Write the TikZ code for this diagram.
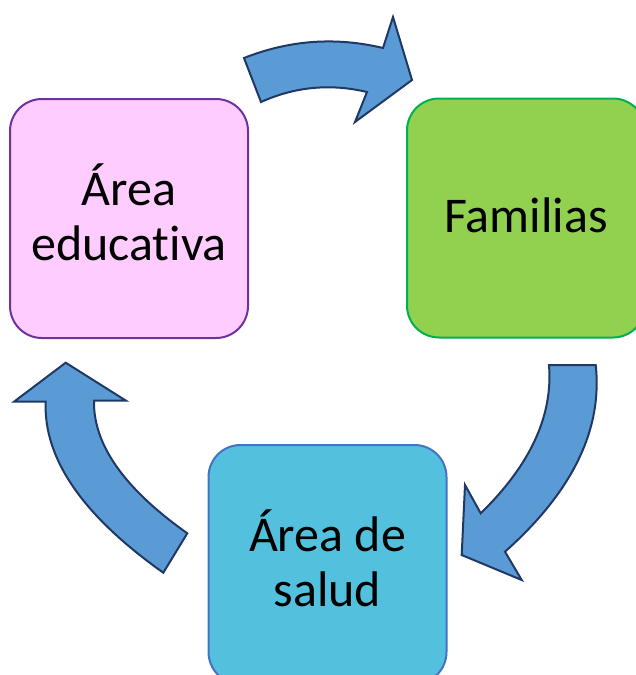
\documentclass[tikz,border=0pt]{standalone}
\usepackage{fontspec}
\setmainfont{Carlito}[Ligatures=NoCommon]
\definecolor{arrowfill}{HTML}{5B9BD5}
\definecolor{arrowline}{HTML}{1F3864}
\definecolor{pinkfill}{HTML}{FFCCFF}
\definecolor{pinkline}{HTML}{7030A0}
\definecolor{greenfill}{HTML}{92D050}
\definecolor{greenline}{HTML}{00B050}
\definecolor{aquafill}{HTML}{53C1DD}
\definecolor{aqualine}{HTML}{4472C4}
\tikzset{
  box/.style={rounded corners=32pt, line width=2pt, minimum width=238pt, minimum height=239pt,
    inner sep=0pt},
  boxtext/.style={align=center, inner sep=0pt, font=\fontsize{50}{55}\selectfont},
  cyclearrow/.style={fill=arrowfill, draw=arrowline, line width=2pt, line join=miter}
}
\begin{document}
\begin{tikzpicture}[x=1pt,y=-1pt]
\useasboundingbox (0,0) rectangle (636,675);
\clip (0,0) rectangle (636,675);
\fill[white] (0,0) rectangle (636,675);
% boxes
\node[box, fill=pinkfill, draw=pinkline] (edu) at (129,218.5) {};
\node[box, fill=greenfill, draw=greenline] (fam) at (526,218) {};
\node[box, fill=aquafill, draw=aqualine] (sal) at (327.5,564.5) {};
\node[boxtext] (edutext) at ([yshift=6pt]edu.center) {Área\\educativa};
\node[boxtext] (famtext) at ([yshift=3pt]fam.center) {Familias};
\node[boxtext] (saltext) at ([yshift=6pt]sal.center) {Área de\\salud};
% top arrow (educativa -> familias)
\draw[cyclearrow] (244,58) .. controls (289.7,40) and (335.7,36.7) .. (383,48)
  -- (393,17) -- (412,80) -- (355,122) -- (367,92)
  .. controls (330.3,83.3) and (295,86.7) .. (261,102) -- cycle;
% right arrow (familias -> salud)
\draw[cyclearrow] (549,365) -- (595.7,365)
  .. controls (602.7,429.4) and (572.5,491.6) .. (505,551.7)
  -- (521.7,580) -- (461.7,555) -- (465,485) -- (480.7,513.3)
  .. controls (530.3,465) and (553.1,415.6) .. (549,365) -- cycle;
% left arrow (salud -> educativa)
\draw[cyclearrow] (65.7,362.7) -- (126,400.7) -- (94,400.7)
  .. controls (93.1,444.5) and (124.2,488.6) .. (187.3,533.3)
  -- (163.3,572.7)
  .. controls (82.5,515.4) and (43.3,458.4) .. (45.7,401.7)
  -- (14,401.7) -- cycle;
\end{tikzpicture}
\end{document}
